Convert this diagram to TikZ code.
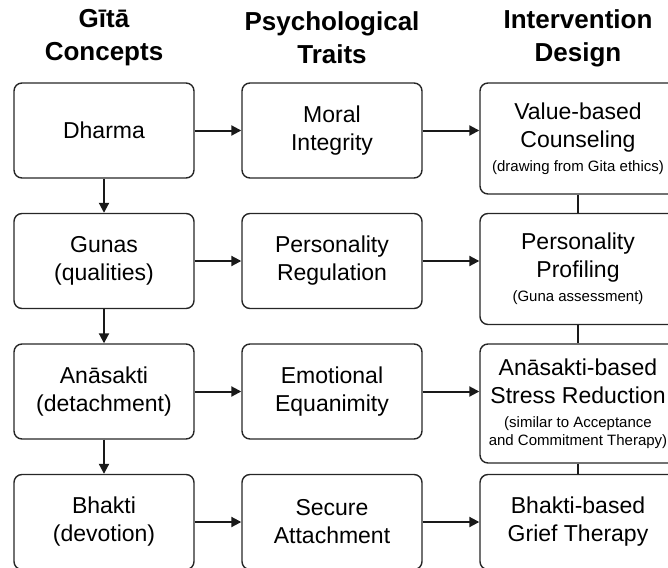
\documentclass[tikz,border=0pt]{standalone}
\usepackage{fontspec}
\setmainfont{Liberation Sans}
\usetikzlibrary{%
  positioning
 ,arrows.meta
}
\tikzstyle{flow}=[x=1pt,y=1pt,node distance=130.5pt,on grid,>={Triangle[length=10pt,width=10pt]},line width=2pt,draw=black!90]
\tikzstyle{hd}=[align=center,inner sep=0pt,anchor=base,font=\bfseries\fontsize{26}{33}\selectfont]
\tikzstyle{box}=[draw=black!85,line width=1.4pt,rounded corners=8pt,align=center,inner sep=2pt,minimum width=180pt,minimum height=95pt,font=\fontsize{23}{28}\selectfont]
\tikzstyle{wbox}=[box,minimum width=196pt,minimum height=111pt]
\newcommand{\subnote}[1]{{\fontsize{15}{18}\selectfont #1}}

\begin{document}
\begin{tikzpicture}[flow]
      \useasboundingbox (0,0) rectangle (668,-567);
      \clip (0,0) rectangle (668,-567);
      % column heads
      \node[hd] (h_g) at (104,-61) {Gītā\\Concepts};
      \node[hd] (h_p) [right of=h_g, node distance=228pt] {Psychological\\Traits};
      \node[hd] (h_i) [right of=h_p, node distance=246pt] {Intervention\\Design};
      % Gita concepts
      \node[box] (g_1) at (104,-130.5) {Dharma};
      \node[box] (g_2) [below of=g_1] {Gunas\\(qualities)};
      \node[box] (g_3) [below of=g_2] {Anāsakti\\(detachment)};
      \node[box] (g_4) [below of=g_3] {Bhakti\\(devotion)};
      % traits
      \node[box] (p_1) [right of=g_1, node distance=228pt] {Moral\\Integrity};
      \node[box] (p_2) [right of=g_2, node distance=228pt] {Personality\\Regulation};
      \node[box] (p_3) [right of=g_3, node distance=228pt] {Emotional\\Equanimity};
      \node[box] (p_4) [right of=g_4, node distance=228pt] {Secure\\Attachment};
      % interventions
      \node[wbox] (i_1) [right of=p_1, node distance=246pt, yshift=-8pt]
        {Value-based\\Counseling\\[-4pt]\subnote{(drawing from Gita ethics)}};
      \node[wbox] (i_2) [right of=p_2, node distance=246pt, yshift=-8pt]
        {Personality\\Profiling\\[-4pt]\subnote{(Guna assessment)}};
      \node[wbox, minimum height=119pt] (i_3) [right of=p_3, node distance=246pt, yshift=-12pt]
        {Anāsakti-based\\Stress Reduction\\[-4pt]\subnote{(similar to Acceptance}\\[-10pt]\subnote{and Commitment Therapy)}};
      \node[wbox, minimum height=95pt] (i_4) [right of=p_4, node distance=246pt]
        {Bhakti-based\\Grief Therapy};
      \path[->]
        (g_1) edge (g_2)
        (g_2) edge (g_3)
        (g_3) edge (g_4);
      \foreach \k in {1,2,3,4} {
        \draw[->] (g_\k) -- (p_\k);
        \draw[->] (p_\k.east) -- (p_\k.east -| i_\k.west);
      }
      \draw[line width=1.4pt] (i_1) -- (i_2) (i_2) -- (i_3) (i_3) -- (i_4);
    \end{tikzpicture}
\end{document}
